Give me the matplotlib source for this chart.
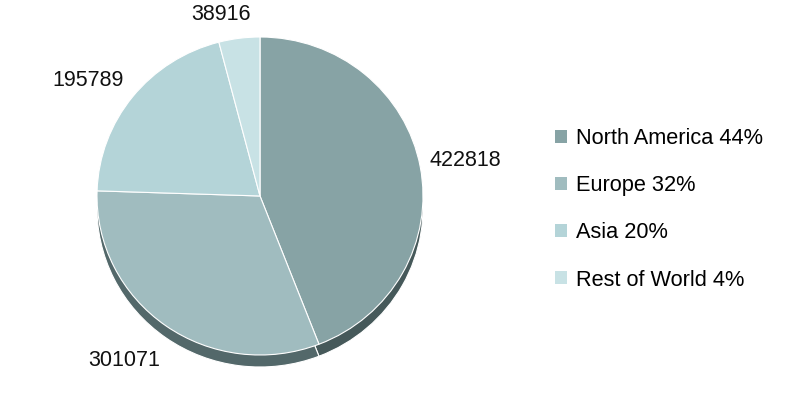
import matplotlib.pyplot as plt
from matplotlib.patches import Patch

regions = ["North America", "Europe", "Asia", "Rest of World"]
values = [422818, 301071, 195789, 38916]
percents = [44, 32, 20, 4]
colors = ["#87a3a5", "#a0bcbf", "#b4d4d8", "#c8e2e5"]
shadow_colors = ["#46595a", "#53686a", "#5f7477", "#6a8083"]
# value label anchors (left edge, vertical centre) in pixels
label_px = [(430, 160), (88, 360), (52, 80), (191, 15)]

plt.rcParams['font.family'] = ['Liberation Sans', 'DejaVu Sans']

W, H = 789, 396
fig = plt.figure(figsize=(W / 100, H / 100), dpi=100)

# pie centre and radii in pixels
cx, cy = 260, 196
rx, ry = 163, 159
left, right = 60, 460
ax = fig.add_axes([left / W, 0, (right - left) / W, 1])

def to_data(px, py):
    return (px - cx) / rx, (cy - py) / ry

# extruded side (drawn first, offset downwards)
depth = 12 / ry
ax.pie(values, colors=shadow_colors, startangle=90, counterclock=False,
       center=(0, -depth), radius=1, frame=True,
       wedgeprops=dict(edgecolor="white", linewidth=0.8))

wedges, texts = ax.pie(values, colors=colors, startangle=90, counterclock=False,
                       labels=[str(v) for v in values], radius=1, frame=True,
                       wedgeprops=dict(edgecolor="white", linewidth=0.8),
                       textprops=dict(fontsize=15.5, color="#111111"))
for t, (px, py) in zip(texts, label_px):
    t.set_position(to_data(px, py))
    t.set_ha("left")
    t.set_va("center")

ax.set_xlim(-(cx - left) / rx, (right - cx) / rx)
ax.set_ylim(-(H - cy) / ry, cy / ry)
ax.set_aspect("auto")
ax.axis("off")

handles = [Patch(facecolor=c, edgecolor="none") for c in colors]
labels = [f"{r} {p}%" for r, p in zip(regions, percents)]
fig.legend(handles, labels, loc="upper left", bbox_to_anchor=(555 / W, 1 - 128 / H),
           frameon=False, fontsize=15.7, handlelength=0.56, handleheight=0.56,
           handletextpad=0.42, labelspacing=1.2, borderaxespad=0, borderpad=0)

fig.savefig("out.png", dpi=100)
